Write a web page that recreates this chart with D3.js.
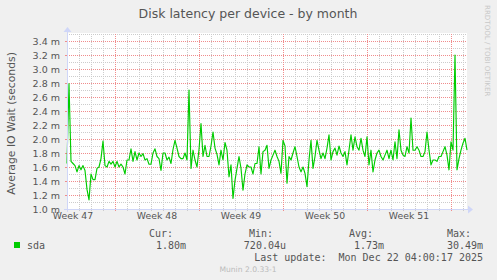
<!DOCTYPE html>
<html>
<head>
<meta charset="utf-8">
<script src="https://cdn.jsdelivr.net/npm/d3@7"></script>
<style>
  html, body { margin: 0; padding: 0; background: #f0f0f0; }
  svg { display: block; }
</style>
</head>
<body>
<div id="chart"></div>
<script>
// data
const title = 'Disk latency per device - by month'
const yTitle = 'Average IO Wait (seconds)'
const startTime = '2025-11-20T00:00:00Z'
const endTime = '2025-12-23T08:00:00Z'
const stepHours = 4
const weekStarts = ['2025-11-17', '2025-11-24', '2025-12-01', '2025-12-08', '2025-12-15', '2025-12-22']
const weekLabels = ['Week 47', 'Week 48', 'Week 49', 'Week 50', 'Week 51']
const yTicks = [1.0, 1.2, 1.4, 1.6, 1.8, 2.0, 2.2, 2.4, 2.6, 2.8, 3.0, 3.2, 3.4]
const yDomain = [1.0, 3.5]
// sda latency in ms, one value per 4 hours
const sda = [
  1.65, 2.79, 1.68, 1.65, 1.62, 1.53, 1.62, 1.56, 1.62, 1.55,
  1.28, 1.13, 1.50, 1.42, 1.42, 1.58, 1.60, 1.72, 1.97, 1.62,
  1.60, 1.68, 1.64, 1.68, 1.60, 1.68, 1.60, 1.64, 1.60, 1.50,
  1.70, 1.70, 1.86, 1.68, 1.82, 1.70, 1.80, 1.75, 1.79, 1.70,
  1.72, 1.64, 1.64, 1.80, 1.86, 1.75, 1.72, 1.55, 1.80, 1.80,
  1.70, 1.74, 1.65, 1.85, 1.98, 1.87, 1.75, 1.72, 1.72, 1.80,
  1.70, 2.70, 1.58, 1.84, 1.70, 1.60, 1.85, 2.22, 1.75, 1.91,
  1.75, 1.75, 1.90, 2.10, 1.87, 1.78, 1.63, 1.84, 1.70, 1.95,
  1.84, 1.46, 1.63, 1.15, 1.41, 1.58, 1.75, 1.58, 1.27, 1.50,
  1.63, 1.60, 1.60, 1.50, 1.65, 1.65, 1.89, 1.50, 1.82, 1.84,
  1.91, 1.58, 1.70, 1.77, 1.84, 1.75, 1.68, 1.51, 1.98, 1.90,
  1.37, 1.75, 1.70, 1.80, 1.89, 1.75, 1.60, 1.53, 1.60, 1.51,
  1.32, 1.70, 1.98, 1.58, 1.75, 1.98, 1.84, 1.72, 1.80, 1.72,
  1.87, 2.06, 1.70, 1.82, 1.87, 1.77, 1.90, 1.80, 1.75, 1.82,
  1.63, 1.84, 2.06, 1.84, 2.03, 1.89, 1.84, 2.01, 1.84, 1.75,
  2.03, 1.63, 1.84, 1.53, 1.70, 1.80, 1.84, 1.75, 1.70, 1.77,
  1.84, 1.72, 1.84, 1.70, 1.96, 1.72, 2.13, 1.84, 1.77, 1.75,
  1.89, 1.80, 2.30, 1.84, 1.84, 1.89, 1.84, 1.75, 1.75, 1.82,
  2.10, 1.84, 1.63, 1.70, 1.70, 1.68, 1.75, 1.75, 1.82, 1.89,
  1.77, 1.56, 1.96, 1.84, 3.20, 1.56, 1.72, 1.84, 1.94, 2.01,
  1.84
]
const seriesName = 'sda'
const legendHeads = ['Cur:', 'Min:', 'Avg:', 'Max:']
const legendValues = ['1.80m', '720.04u', '1.73m', '30.49m']
const lastUpdate = 'Last update:  Mon Dec 22 04:00:17 2025'
const watermark = 'RRDTOOL / TOBI OETIKER'
const footer = 'Munin 2.0.33-1'

// layout
const width = 497, height = 280
const plot = { left: 67, right: 467, top: 34, bottom: 209 }
const headX = [149, 249, 349, 447]
const valueX = [186, 286, 384, 483]
const colors = { back: '#f0f0f0', canvas: '#ffffff', font: '#555555', axis: '#cfd6f8',
                 grid: '#cccccc', mgrid: '#f08c8c', line: '#00cc00' }

const parse = d3.utcParse('%Y-%m-%d')
const t0 = new Date(startTime)
const points = sda.map((v, i) => ({ t: d3.utcHour.offset(t0, i * stepHours), v }))

const xScale = d3.scaleUtc().domain([t0, new Date(endTime)]).range([plot.left, plot.right])
const yScale = d3.scaleLinear().domain(yDomain).range([plot.bottom, plot.top])
const px = v => Math.round(v) + 0.5

const svg = d3.select('#chart').append('svg')
              .attr('width', width)
              .attr('height', height)
              .style('background', colors.back)
              .style('font-family', '"DejaVu Sans", sans-serif')

svg.append('rect')
   .attr('x', plot.left).attr('y', plot.top - 1)
   .attr('width', plot.right - plot.left).attr('height', plot.bottom - plot.top + 1)
   .attr('fill', colors.canvas)

const grid = svg.append('g').attr('shape-rendering', 'crispEdges').attr('stroke-width', 1)

// horizontal grid: minor every 0.1, major every 0.2
const yMinor = d3.range(11, 36).map(d => d / 10).filter(d => !yTicks.some(t => Math.abs(t - d) < 1e-6))
grid.selectAll('.hminor').data(yMinor).join('line')
    .attr('x1', plot.left).attr('x2', plot.right)
    .attr('y1', d => px(yScale(d))).attr('y2', d => px(yScale(d)))
    .attr('stroke', colors.grid).attr('stroke-dasharray', '1,1')

// vertical grid: days and week starts
const weekDates = weekStarts.map(parse)
const days = d3.utcDay.range(d3.utcDay.offset(t0, 1), new Date(endTime))
               .filter(d => d.getUTCDay() !== 1)
grid.selectAll('.vminor').data(days).join('line')
    .attr('x1', d => px(xScale(d))).attr('x2', d => px(xScale(d)))
    .attr('y1', plot.top).attr('y2', plot.bottom)
    .attr('stroke', colors.grid).attr('stroke-dasharray', '1,1')

grid.selectAll('.hmajor').data(yTicks.slice(1)).join('line')
    .attr('x1', plot.left).attr('x2', plot.right)
    .attr('y1', d => px(yScale(d))).attr('y2', d => px(yScale(d)))
    .attr('stroke', colors.mgrid).attr('stroke-dasharray', '1,1')
const weekLines = weekDates.filter(d => d > t0)
grid.selectAll('.vmajor').data(weekLines).join('line')
    .attr('x1', d => px(xScale(d))).attr('x2', d => px(xScale(d)))
    .attr('y1', plot.top).attr('y2', plot.bottom + 3)
    .attr('stroke', colors.mgrid).attr('stroke-dasharray', '1,1')

// small ticks on the axes
grid.selectAll('.ytick').data(yTicks).join('line')
    .attr('x1', plot.left - 2).attr('x2', plot.left)
    .attr('y1', d => px(yScale(d))).attr('y2', d => px(yScale(d)))
    .attr('stroke', colors.mgrid)
grid.selectAll('.xtick').data(days).join('line')
    .attr('x1', d => px(xScale(d))).attr('x2', d => px(xScale(d)))
    .attr('y1', plot.bottom).attr('y2', plot.bottom + 2)
    .attr('stroke', colors.grid)

// series
const line = d3.line()
               .x(d => xScale(d.t))
               .y(d => yScale(d.v))

svg.append('path')
   .datum(points)
   .attr('d', line)
   .attr('fill', 'none')
   .attr('stroke', colors.line)
   .attr('stroke-width', 1.15)
   .attr('stroke-linejoin', 'round')

// axes with arrows
const axes = svg.append('g').attr('shape-rendering', 'crispEdges')
axes.append('line')
    .attr('x1', plot.left - 3).attr('x2', plot.right + 2)
    .attr('y1', px(plot.bottom)).attr('y2', px(plot.bottom))
    .attr('stroke', colors.axis)
axes.append('line')
    .attr('x1', px(plot.left)).attr('x2', px(plot.left))
    .attr('y1', plot.bottom + 3).attr('y2', plot.top - 2)
    .attr('stroke', colors.axis)
svg.append('path')
   .attr('d', `M${plot.right + 1},${plot.bottom + 0.5 - 4} L${plot.right + 6},${plot.bottom + 0.5} L${plot.right + 1},${plot.bottom + 0.5 + 4} Z`)
   .attr('fill', colors.axis)
svg.append('path')
   .attr('d', `M${plot.left + 0.5 - 4},${plot.top - 2} L${plot.left + 0.5},${plot.top - 7} L${plot.left + 0.5 + 4},${plot.top - 2} Z`)
   .attr('fill', colors.axis)

// y labels
svg.append('g').selectAll('text').data(yTicks).join('text')
   .attr('x', plot.left - 7)
   .attr('y', d => yScale(d) + 3.5)
   .attr('text-anchor', 'end')
   .style('font-size', '9.5px')
   .style('fill', colors.font)
   .text(d => d.toFixed(1) + ' m')

// week labels centred on each week
svg.append('g').selectAll('text').data(weekLabels).join('text')
   .attr('x', (d, i) => xScale(d3.utcHour.offset(weekDates[i], 84)))
   .attr('y', plot.bottom + 10)
   .attr('text-anchor', 'middle')
   .style('font-size', '9.3px')
   .style('fill', colors.font)
   .text(d => d)

// titles
svg.append('text')
   .attr('x', 248).attr('y', 18)
   .attr('text-anchor', 'middle')
   .style('font-size', '12.5px')
   .style('fill', colors.font)
   .text(title)

svg.append('text')
   .attr('transform', `translate(15, ${(plot.top + plot.bottom) / 2 + 2}) rotate(-90)`)
   .attr('text-anchor', 'middle')
   .style('font-size', '10.8px')
   .style('fill', colors.font)
   .text(yTitle)

svg.append('text')
   .attr('transform', 'translate(485, 5) rotate(90)')
   .attr('text-anchor', 'start')
   .style('font-size', '7.1px')
   .style('fill', '#c8c8c8')
   .text(watermark)

// legend
const mono = '"DejaVu Sans Mono", monospace'
svg.append('rect')
   .attr('x', 14).attr('y', 242).attr('width', 6).attr('height', 6)
   .attr('fill', colors.line)

svg.append('text')
   .attr('x', 27).attr('y', 249)
   .style('font-family', mono).style('font-size', '10px').style('fill', colors.font)
   .text(seriesName)

svg.append('g').selectAll('text').data(legendHeads).join('text')
   .attr('x', (d, i) => headX[i]).attr('y', 237)
   .style('font-family', mono).style('font-size', '10px').style('fill', colors.font)
   .text(d => d)

svg.append('g').selectAll('text').data(legendValues).join('text')
   .attr('x', (d, i) => valueX[i]).attr('y', 249)
   .attr('text-anchor', 'end')
   .style('font-family', mono).style('font-size', '10px').style('fill', colors.font)
   .text(d => d)

svg.append('text')
   .attr('x', 483).attr('y', 261)
   .attr('text-anchor', 'end')
   .style('font-family', mono).style('font-size', '10px').style('fill', colors.font)
   .style('white-space', 'pre')
   .text(lastUpdate)

svg.append('text')
   .attr('x', 248).attr('y', 272)
   .attr('text-anchor', 'middle')
   .style('font-size', '7.6px')
   .style('fill', '#bbbbbb')
   .text(footer)
</script>
</body>
</html>
